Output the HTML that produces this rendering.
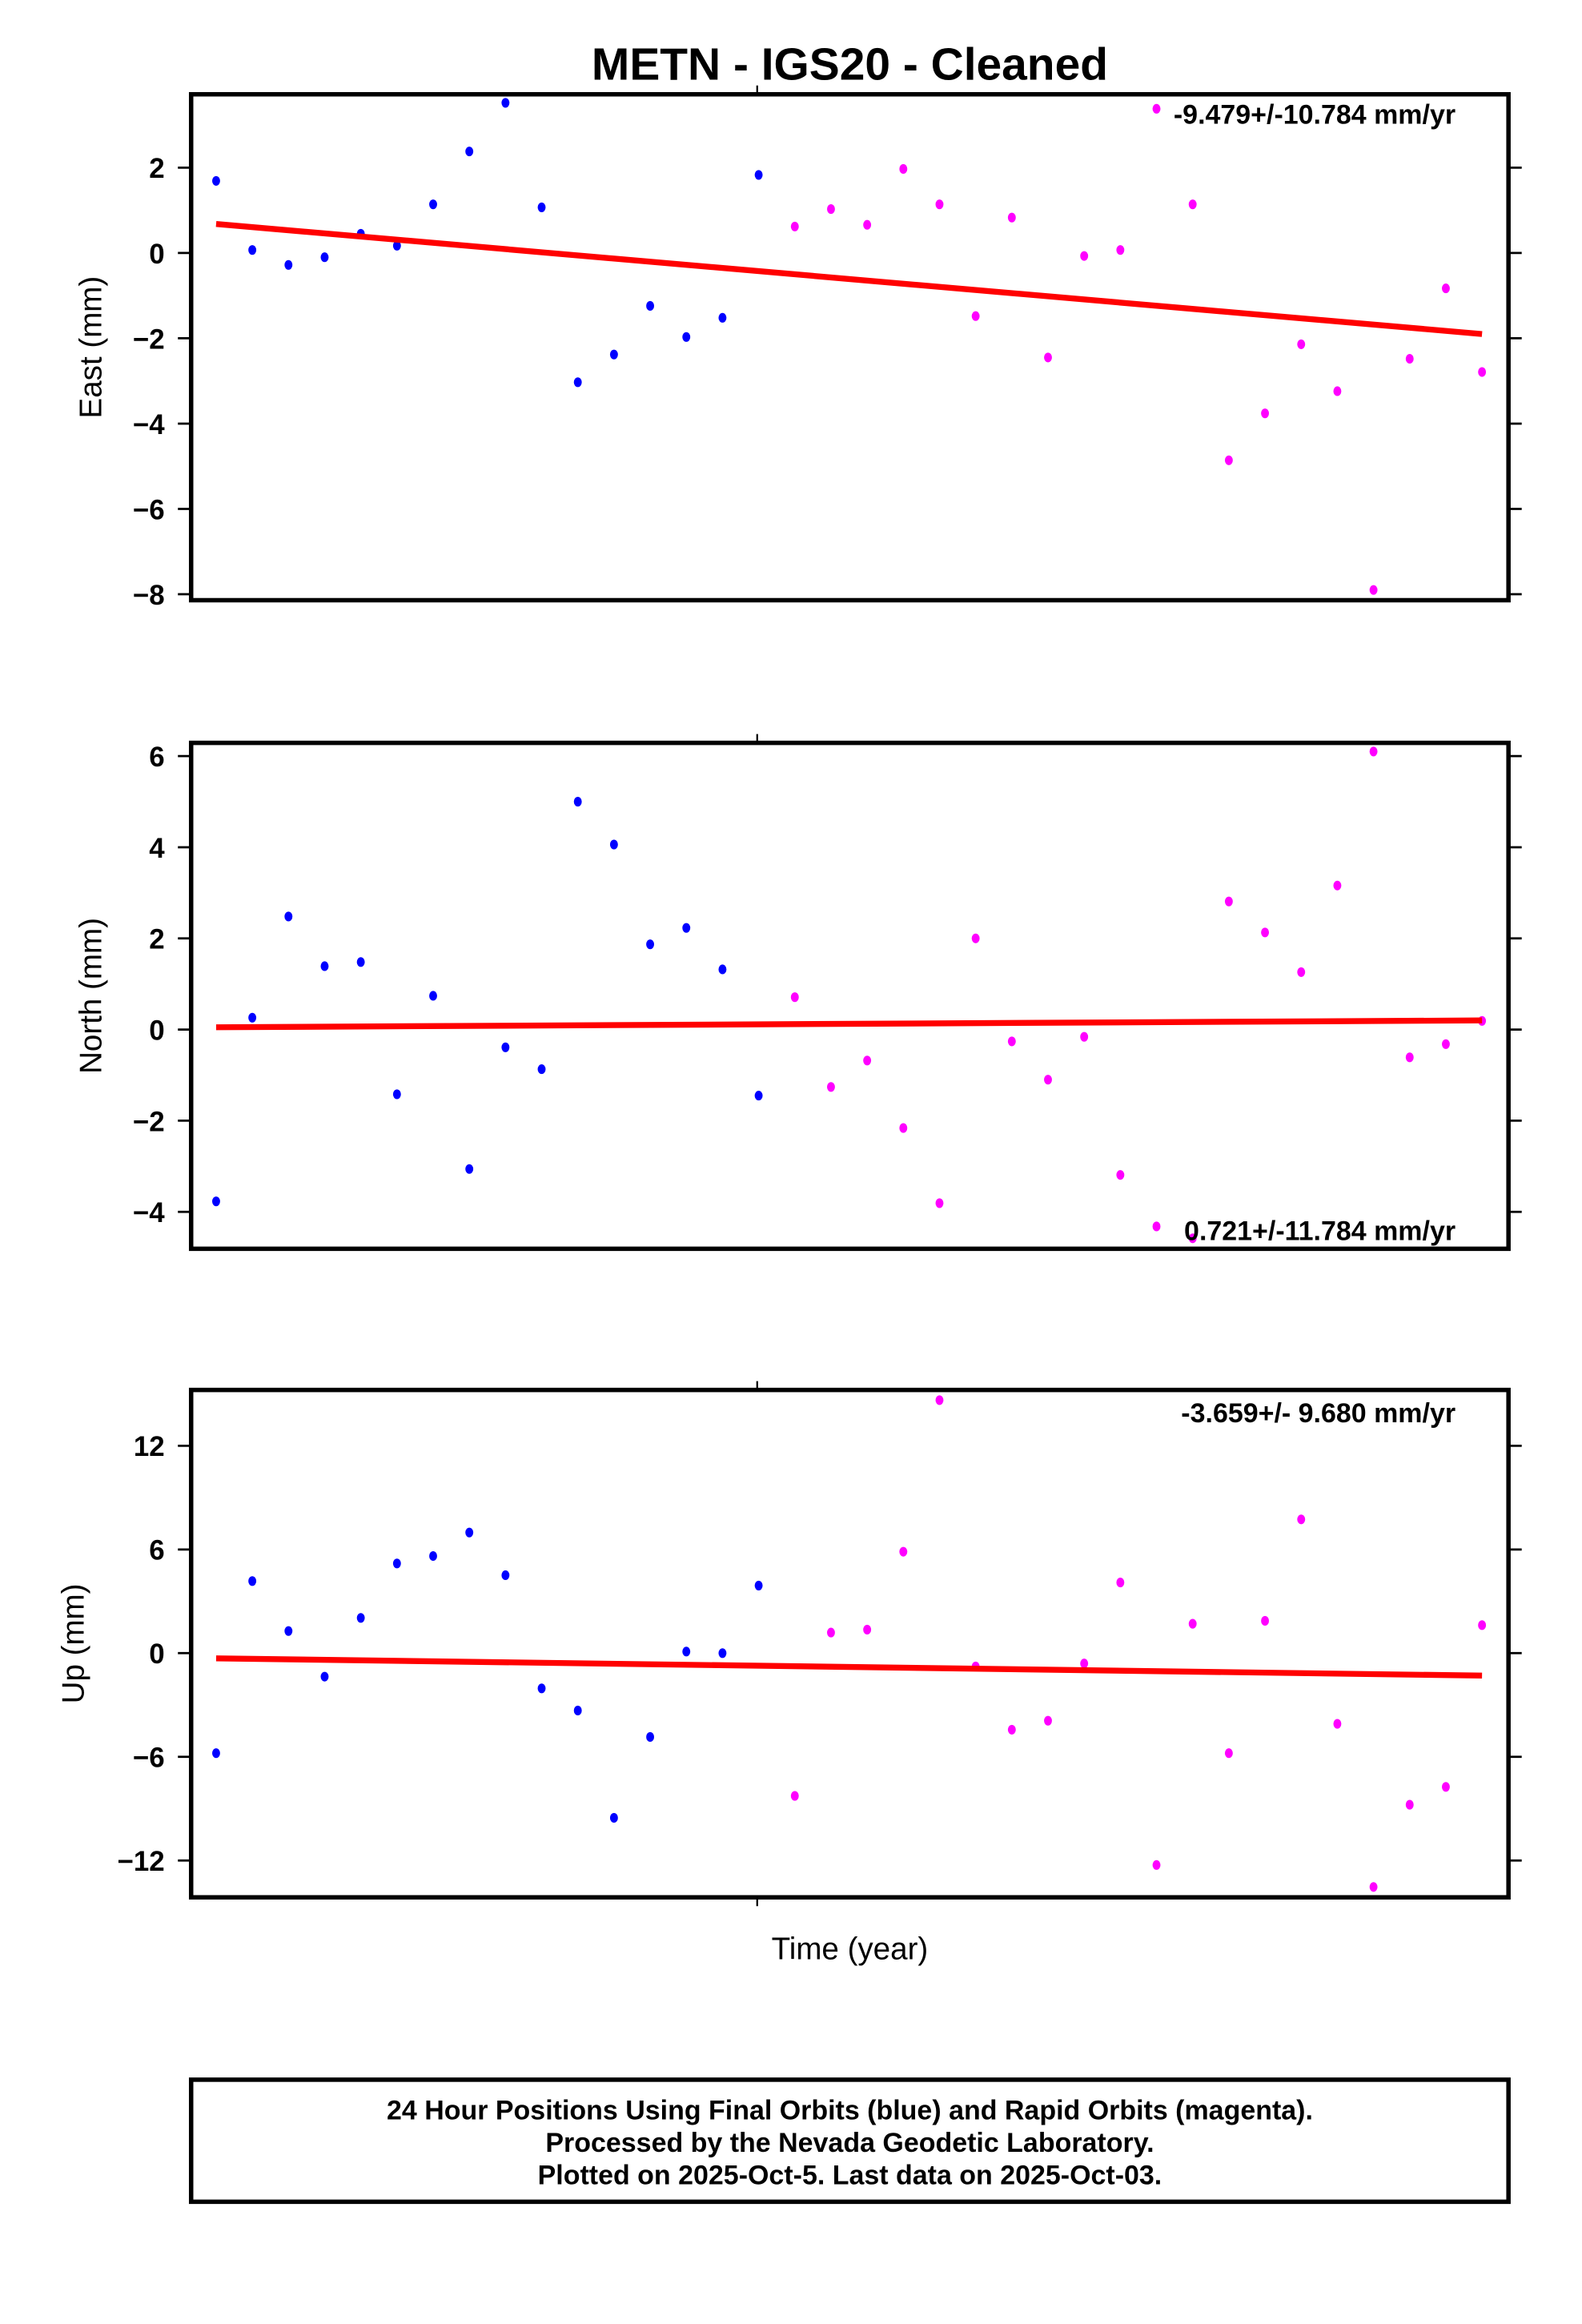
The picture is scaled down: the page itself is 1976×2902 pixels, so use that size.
<!DOCTYPE html>
<html><head><meta charset="utf-8"><title>METN - IGS20 - Cleaned</title>
<style>
html,body{margin:0;padding:0;background:#fff;}
svg{display:block;}
text{font-family:"Liberation Sans",sans-serif;}
</style></head>
<body>
<svg id="chart" width="1976" height="2902" viewBox="0 0 1076 1580" xmlns="http://www.w3.org/2000/svg">
<rect width="1076" height="1580" fill="#fff"/>
<text x="578" y="54" text-anchor="middle" font-size="31" font-weight="bold">METN  - IGS20 - Cleaned</text>
<g id="panels"></g>
<text x="578" y="1332" text-anchor="middle" font-size="21">Time (year)</text>
<rect x="130" y="1414" width="896" height="83" fill="none" stroke="#000" stroke-width="3"/>
<text x="578" y="1441" text-anchor="middle" font-size="18.5" font-weight="bold">24 Hour Positions Using Final Orbits (blue) and Rapid Orbits (magenta).</text>
<text x="578" y="1463" text-anchor="middle" font-size="18.5" font-weight="bold">Processed by the Nevada Geodetic Laboratory.</text>
<text x="578" y="1485" text-anchor="middle" font-size="18.5" font-weight="bold">Plotted on 2025-Oct-5. Last data on 2025-Oct-03.</text>
</svg>
<script>
const eastValues = [1.69,0.07,-0.28,-0.1,0.45,0.17,1.14,2.38,3.52,1.07,-3.03,-2.38,-1.24,-1.97,-1.52,1.83,0.62,1.03,0.66,1.97,1.14,-1.48,0.83,-2.45,-0.07,0.07,3.38,1.14,-4.86,-3.76,-2.14,-3.24,-7.9,-2.48,-0.83,-2.79];
const northValues = [-3.77,0.26,2.48,1.39,1.48,-1.42,0.74,-3.06,-0.39,-0.87,5.0,4.06,1.87,2.23,1.32,-1.45,0.71,-1.26,-0.68,-2.16,-3.81,2.0,-0.26,-1.1,-0.16,-3.19,-4.32,-4.58,2.81,2.13,1.26,3.16,6.1,-0.61,-0.32,0.19];
const upValues = [-5.79,4.17,1.28,-1.36,2.04,5.19,5.62,6.98,4.51,-2.04,-3.32,-9.53,-4.85,0.09,0,3.91,-8.26,1.19,1.36,5.87,14.64,-0.77,-4.43,-3.91,-0.6,4.09,-12.26,1.7,-5.79,1.87,7.74,-4.09,-13.53,-8.77,-7.74,1.62];
const finalCount = 16;
const eastTrend = [0.68,-1.9];
const northTrend = [0.05,0.2];
const upTrend = [-0.3,-1.3];
const eastTicks = [2,0,-2,-4,-6,-8];
const northTicks = [6,4,2,0,-2,-4];
const upTicks = [12,6,0,-6,-12];
const eastRate = "-9.479+/-10.784 mm/yr";
const northRate = "0.721+/-11.784 mm/yr";
const upRate = "-3.659+/- 9.680 mm/yr";

const NS='http://www.w3.org/2000/svg';
const root=document.getElementById('panels');
function mk(tag,attrs,parent){const e=document.createElementNS(NS,tag);for(const k in attrs)e.setAttribute(k,attrs[k]);(parent||root).appendChild(e);return e;}
const X0=130,X1=1026;
function xScale(i){return 147+i*(1008-147)/(eastValues.length-1);}

function panel(name,top,bottom,vTop,vBot,ticks,vals,trend,title,rate,rateY,bottomTick){
  const g=mk('g',{});
  
  
  const y=v=>top+(vTop-v)*(bottom-top)/(vTop-vBot);
  ticks.forEach(t=>{
    const tk=mk('line',{x1:X0-9,x2:X0,y1:y(t),y2:y(t),stroke:'#000','stroke-width':1.5},g);
    
    
    const tr=mk('line',{x1:X1,x2:X1+9,y1:y(t),y2:y(t),stroke:'#000','stroke-width':1.5},g);
    
    
    const lb=mk('text',{x:X0-18,y:y(t)+7,'text-anchor':'end','font-size':19,'font-weight':'bold'},g);
    lb.textContent=String(t).replace('-','\u2212');
    
    
  });
  const tt=mk('line',{x1:515,x2:515,y1:top-6,y2:top,stroke:'#000','stroke-width':1.2},g);
  
  
  if(bottomTick){const bt=mk('line',{x1:515,x2:515,y1:bottom,y2:bottom+6,stroke:'#000','stroke-width':1.2},g);
    
    }
  vals.forEach((v,i)=>{
    const c=mk('ellipse',{cx:xScale(i),cy:y(v),rx:2.7,ry:3.3,fill:i<finalCount?'#0000ff':'#ff00ff'},g);
    
    
  });
  const ln=mk('line',{x1:xScale(0),y1:y(trend[0]),x2:xScale(vals.length-1),y2:y(trend[1]),stroke:'#ff0000','stroke-width':4},g);
  
  
  const fr=mk('rect',{x:X0,y:top,width:X1-X0,height:bottom-top,fill:'none',stroke:'#000','stroke-width':3},g);
  
  
  const rt=mk('text',{x:990,y:rateY,'text-anchor':'end','font-size':18.5,'font-weight':'bold'},g);
  rt.textContent=rate;
  
  
  const cy=(top+bottom)/2;
  const at=mk('text',{x:0,y:0,'text-anchor':'middle','font-size':21,transform:`translate(${name==='up'?57:69},${cy}) rotate(-90)`},g);
  at.textContent=title;
  
  
}
panel('east',64,408,3.72,-8.14,eastTicks,eastValues,eastTrend,'East (mm)',eastRate,84,false);
panel('north',505,849,6.29,-4.81,northTicks,northValues,northTrend,'North (mm)',northRate,843,false);
panel('up',945,1290,15.23,-14.13,upTicks,upValues,upTrend,'Up (mm)',upRate,967,true);
</script>
</body></html>
